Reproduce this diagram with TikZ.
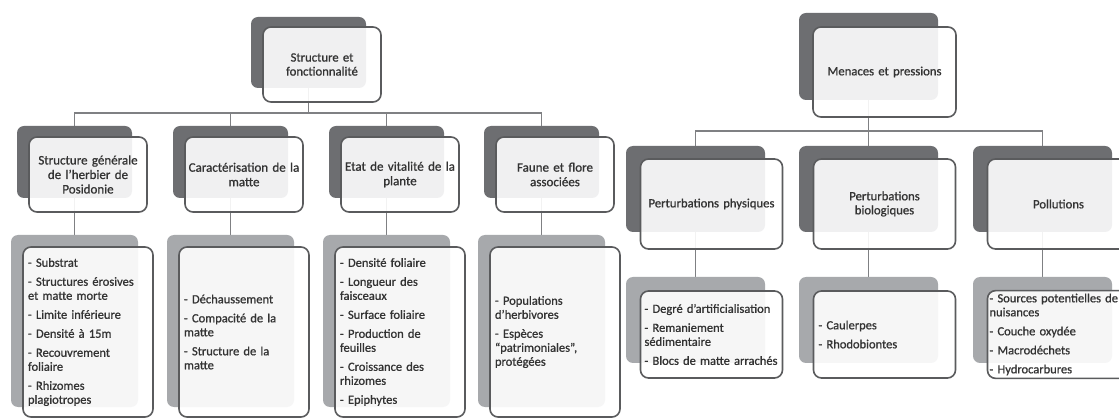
\documentclass[tikz,border=0pt]{standalone}
\usepackage{fontspec}
\setmainfont{Carlito}[FakeBold=0.9]
\pgfdeclarelayer{bg}
\pgfsetlayers{bg,main}
\definecolor{bkdark}{HTML}{6D6E71}
\definecolor{bklight}{HTML}{A7A9AC}
\definecolor{framec}{HTML}{5A5B5D}
\definecolor{connc}{HTML}{7F8083}
\definecolor{txt}{HTML}{333333}
\begin{document}
\begin{tikzpicture}[x=1pt,y=-1pt,
  backbox/.style={fill=bkdark, rounded corners=7pt, inner sep=0pt},
  backlt/.style={fill=bklight, rounded corners=7pt, inner sep=0pt},
  front/.style={draw=framec, line width=1.6pt, fill=white, fill opacity=0.9, text opacity=1,
    rounded corners=8pt, text=txt, align=center, inner sep=3pt},
  leaf/.style={front, align=left, inner xsep=5pt},
  conn/.style={draw=connc, line width=1.6pt},
  ftop/.style={font=\fontsize{12.7}{14}\selectfont},
  fmid/.style={font=\fontsize{13}{14.5}\selectfont},
  fleaf/.style={font=\fontsize{12.5}{14}\selectfont},
]
\useasboundingbox (0,0) rectangle (1119,419);
\clip (0,0) rectangle (1119,419);

% ---------- left tree ----------
\node[backbox, minimum width=115pt, minimum height=71pt] (sf-b) at (308.5,52.5) {};
\node[front, ftop, minimum width=118pt, minimum height=75pt, text width=110pt] (sf) at (322,64.5) {Structure et\\ fonctionnalité};

\node[backbox, minimum width=115pt, minimum height=72pt] (c1-b) at (74.5,162) {};
\node[front, fmid, minimum width=118pt, minimum height=75pt, text width=112pt] (c1) at (88,174.5) {Structure générale\\ de l’herbier de\\ Posidonie};
\node[backbox, minimum width=115pt, minimum height=72pt] (c2-b) at (230.5,162) {};
\node[front, fmid, minimum width=118pt, minimum height=75pt, text width=112pt] (c2) at (244,174.5) {Caractérisation de la\\ matte};
\node[backbox, minimum width=115pt, minimum height=72pt] (c3-b) at (386.5,162) {};
\node[front, fmid, minimum width=118pt, minimum height=75pt, text width=112pt] (c3) at (400,174.5) {Etat de vitalité de la\\ plante};
\node[backbox, minimum width=115pt, minimum height=72pt] (c4-b) at (541.5,162) {};
\node[front, fmid, minimum width=118pt, minimum height=75pt, text width=112pt] (c4) at (555,174.5) {Faune et flore\\ associées};

\node[backlt, minimum width=127pt, minimum height=172pt] (d1-b) at (74.5,321) {};
\node[leaf, fleaf, minimum width=130pt, minimum height=170pt, text width=120pt] (d1) at (88,332)
 {- Substrat\\[5pt] - Structures érosives\\ et matte morte\\[5pt] - Limite inférieure\\[5pt] - Densité à 15m\\[5pt] - Recouvrement\\ foliaire\\[5pt] - Rhizomes\\ plagiotropes};
\node[backlt, minimum width=127pt, minimum height=172pt] (d2-b) at (230.5,321) {};
\node[leaf, fleaf, minimum width=130pt, minimum height=170pt, text width=120pt] (d2) at (244,332)
 {- Déchaussement\\[5pt] - Compacité de la\\ matte\\[5pt] - Structure de la\\ matte};
\node[backlt, minimum width=127pt, minimum height=172pt] (d3-b) at (386.5,321) {};
\node[leaf, fleaf, minimum width=130pt, minimum height=170pt, text width=120pt] (d3) at (400,332)
 {- Densité foliaire\\[5pt] - Longueur des\\ faisceaux\\[5pt] - Surface foliaire\\[5pt] - Production de\\ feuilles\\[5pt] - Croissance des\\ rhizomes\\[5pt] - Epiphytes};
\node[backlt, minimum width=127pt, minimum height=172pt] (d4-b) at (541.5,321) {};
\node[leaf, fleaf, minimum width=130pt, minimum height=170pt, text width=120pt] (d4) at (555,332)
 {- Populations\\ d’herbivores\\[5pt] - Espèces\\ “patrimoniales”,\\ protégées};

% ---------- right tree ----------
\node[backbox, minimum width=139pt, minimum height=87pt] (mp-b) at (868.5,56.5) {};
\node[front, ftop, minimum width=143pt, minimum height=90pt, text width=135pt] (mp) at (884.5,72) {Menaces et pressions};

\node[backbox, minimum width=139pt, minimum height=86pt] (e1-b) at (695.5,189) {};
\node[front, ftop, minimum width=142pt, minimum height=90pt, text width=134pt] (e1) at (711.5,204) {Perturbations physiques};
\node[backbox, minimum width=139pt, minimum height=86pt] (e2-b) at (868.5,189) {};
\node[front, ftop, minimum width=142pt, minimum height=90pt, text width=134pt] (e2) at (884.5,204) {Perturbations\\ biologiques};
\node[backbox, minimum width=139pt, minimum height=86pt] (e3-b) at (1042.5,189) {};
\node[front, ftop, minimum width=142pt, minimum height=90pt, text width=134pt] (e3) at (1058.5,204) {Pollutions};

\node[backlt, minimum width=139pt, minimum height=86pt] (f1-b) at (695.5,320) {};
\node[leaf, fleaf, inner xsep=4pt, minimum width=142pt, minimum height=87pt, text width=134pt] (f1) at (711.5,334.5)
 {\makebox[134pt][l]{- Degré d’artificialisation}\\[5pt] - Remaniement\\ sédimentaire\\[5pt] \makebox[134pt][l]{- Blocs de matte arrachés}};
\node[backlt, minimum width=139pt, minimum height=86pt] (f2-b) at (868.5,320) {};
\node[leaf, fleaf, minimum width=142pt, minimum height=87pt, text width=132pt] (f2) at (884.5,334.5)
 {- Caulerpes\\[5pt] - Rhodobiontes};
\node[backlt, minimum width=139pt, minimum height=86pt] (f3-b) at (1042.5,320) {};
\node[leaf, fleaf, inner xsep=2pt, minimum width=142pt, minimum height=87pt, text width=138pt] (f3) at (1058.5,334.5)
 {\makebox[138pt][l]{- Sources potentielles de}\\ nuisances\\[5pt] - Couche oxydée\\[5pt] - Macrodéchets\\[5pt] - Hydrocarbures};

% ---------- connectors ----------
\begin{pgfonlayer}{bg}
\fill[white] (0,0) rectangle (1119,419);
\draw[conn] (sf-b.south) -- (sf-b.south |- 0,113);
\draw[conn] (c1-b.north) -- (c1-b.north |- 0,113) -- (c4-b.north |- 0,113) -- (c4-b.north);
\draw[conn] (c2-b.north) -- (c2-b.north |- 0,113);
\draw[conn] (c3-b.north) -- (c3-b.north |- 0,113);
\draw[conn] (c1-b.south) -- (d1-b.north);
\draw[conn] (c2-b.south) -- (d2-b.north);
\draw[conn] (c3-b.south) -- (d3-b.north);
\draw[conn] (c4-b.south) -- (d4-b.north);
\draw[conn] (mp-b.south) -- (mp-b.south |- 0,131);
\draw[conn] (e1-b.north) -- (e1-b.north |- 0,131) -- (e3-b.north |- 0,131) -- (e3-b.north);
\draw[conn] (e2-b.north) -- (e2-b.north |- 0,131);
\draw[conn] (e1-b.south) -- (f1-b.north);
\draw[conn] (e2-b.south) -- (f2-b.north);
\draw[conn] (e3-b.south) -- (f3-b.north);
\end{pgfonlayer}
\end{tikzpicture}
\end{document}
